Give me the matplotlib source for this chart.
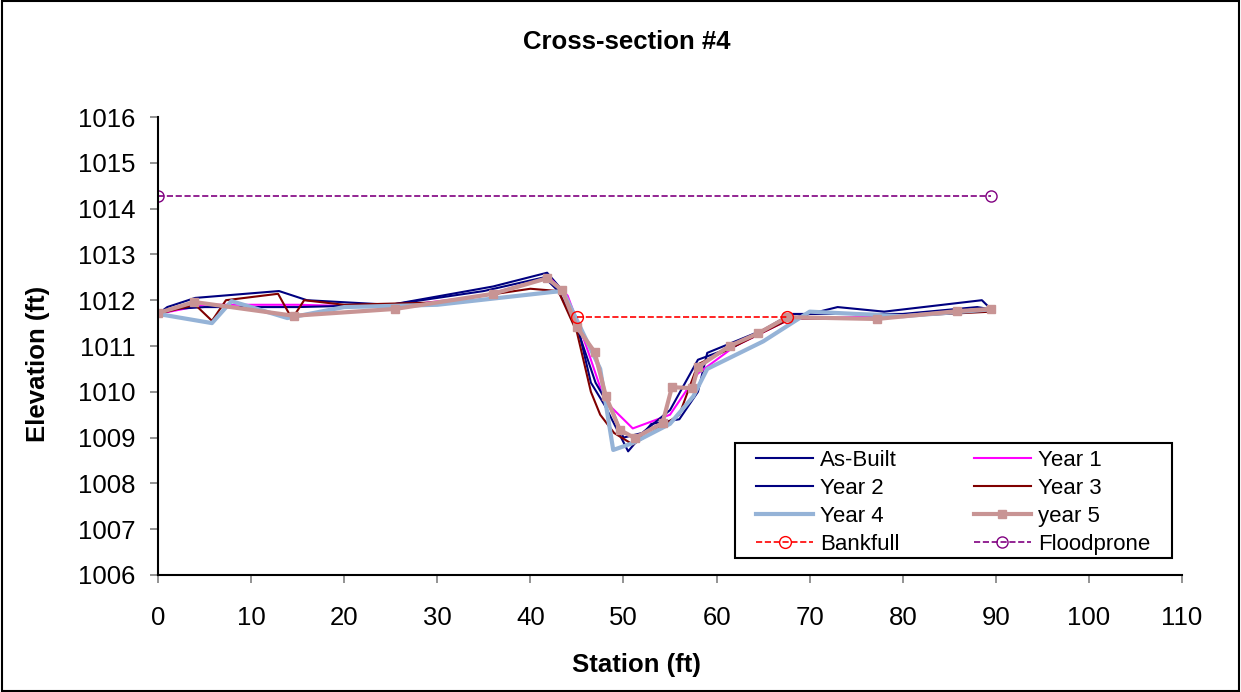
import matplotlib
matplotlib.use("Agg")
import matplotlib.pyplot as plt

plt.rcParams['font.family'] = ['Liberation Sans', 'DejaVu Sans']

# data
asbuilt_x = [0, 1, 4, 13, 16, 25, 36, 41.8, 43.5, 45, 46.5, 48, 50.5, 53, 56, 58, 59, 62, 68, 73, 78, 88.5, 89.5]
asbuilt_y = [1011.7, 1011.85, 1012.05, 1012.2, 1012.0, 1011.9, 1012.3, 1012.6, 1012.2, 1011.5, 1010.2, 1009.7, 1008.7, 1009.3, 1009.4, 1010.0, 1010.85, 1011.1, 1011.6, 1011.85, 1011.75, 1012.0, 1011.8]

year1_x = [0, 5, 15, 25, 35, 42, 44, 46, 48, 51, 55, 58, 62, 68, 80, 88, 89.5]
year1_y = [1011.7, 1011.9, 1011.9, 1011.85, 1012.1, 1012.5, 1012.1, 1011.0, 1009.8, 1009.2, 1009.5, 1010.4, 1011.0, 1011.6, 1011.65, 1011.8, 1011.8]

year2_x = [0, 1, 5, 15, 25, 35, 41.5, 43, 45, 47, 49, 50, 52, 55, 58, 62, 68, 80, 88, 89.5]
year2_y = [1011.7, 1011.8, 1011.85, 1011.85, 1011.9, 1012.2, 1012.5, 1012.2, 1011.4, 1010.2, 1009.5, 1009.0, 1009.1, 1009.6, 1010.7, 1011.0, 1011.7, 1011.7, 1011.85, 1011.8]

year3_x = [0, 4, 5.8, 7.3, 12.9, 14.4, 15.7, 20, 30, 40, 43, 45, 46.5, 47.5, 49, 51, 53, 56, 58, 62, 68, 75, 89.5]
year3_y = [1011.7, 1011.9, 1011.55, 1012.0, 1012.14, 1011.59, 1012.0, 1011.9, 1011.95, 1012.25, 1012.2, 1011.3, 1010.0, 1009.5, 1009.1, 1008.85, 1009.1, 1009.5, 1010.6, 1011.0, 1011.6, 1011.6, 1011.75]

year4_x = [0, 5.8, 7.9, 13.9, 20, 30, 42.4, 43.5, 47.5, 48.9, 51, 55, 57.5, 59, 65, 70, 80, 89.5]
year4_y = [1011.7, 1011.5, 1011.98, 1011.61, 1011.85, 1011.9, 1012.18, 1012.2, 1010.5, 1008.73, 1008.88, 1009.3, 1009.9, 1010.5, 1011.1, 1011.75, 1011.65, 1011.8]

year5_x = [0, 3.9, 14.6, 25.5, 36.0, 41.8, 43.4, 45.0, 46.9, 48.1, 49.6, 51.2, 54.2, 55.2, 57.4, 58.0, 61.4, 64.5, 67.6, 77.2, 85.8, 89.5]
year5_y = [1011.72, 1011.96, 1011.66, 1011.81, 1012.14, 1012.48, 1012.22, 1011.41, 1010.87, 1009.91, 1009.17, 1008.99, 1009.32, 1010.10, 1010.08, 1010.54, 1011.0, 1011.28, 1011.63, 1011.59, 1011.76, 1011.81]

bankfull_x = [45.0, 67.6]
bankfull_y = [1011.63, 1011.63]

floodprone_x = [0, 89.5]
floodprone_y = [1014.28, 1014.28]

fig = plt.figure(figsize=(12.41, 6.92), dpi=100)
ax = fig.add_axes([0.1273, 0.1691, 0.8252, 0.6618])

h_ab, = ax.plot(asbuilt_x, asbuilt_y, color="#000080", lw=1.5, label="As-Built")
h_y1, = ax.plot(year1_x, year1_y, color="#ff00ff", lw=1.5, label="Year 1")
h_y2, = ax.plot(year2_x, year2_y, color="#000080", lw=1.5, label="Year 2")
h_y3, = ax.plot(year3_x, year3_y, color="#800000", lw=1.5, label="Year 3")
h_y4, = ax.plot(year4_x, year4_y, color="#95b3d7", lw=3, label="Year 4")
h_y5, = ax.plot(year5_x, year5_y, color="#c89494", lw=3, marker="s", ms=6, label="year 5")
h_bf, = ax.plot(bankfull_x, bankfull_y, color="#ff0000", lw=1.2, ls="--", marker="o", ms=8.5,
                mfc="none", mec="#ff0000", label="Bankfull")
h_fp, = ax.plot(floodprone_x, floodprone_y, color="#800080", lw=1.2, ls="--", marker="o", ms=8,
                mfc="none", mec="#800080", label="Floodprone")

ax.set_xlim(0, 110)
ax.set_ylim(1006, 1016)
ax.set_xticks(range(0, 111, 10))
ax.set_yticks(range(1006, 1017))
ax.spines["top"].set_visible(False)
ax.spines["right"].set_visible(False)
ax.spines["left"].set_linewidth(1.5)
ax.spines["bottom"].set_linewidth(1.5)
ax.tick_params(labelsize=18.5, length=6, color="#808080", width=1.2)
ax.tick_params(axis="x", pad=16)
ax.tick_params(axis="y", pad=10)

fig.text(0.5125, 0.039, "Station (ft)", ha="center", va="center", fontsize=18.5, fontweight="bold")
fig.text(0.031, 0.474, "Elevation (ft)", ha="center", va="center", rotation=90,
         fontsize=18.5, fontweight="bold")
fig.text(0.505, 0.94, "Cross-section #4", ha="center", va="center", fontsize=18.5, fontweight="bold")

# legend box drawn separately (wide side padding like Excel)
ax.add_patch(plt.Rectangle((0.5635, 0.0371), 0.4268, 0.251, transform=ax.transAxes,
                           facecolor="white", edgecolor="black", lw=1.5, zorder=4.5, clip_on=False))

# column-major order so rows read As-Built | Year 1, Year 2 | Year 3 ...
handles = [h_ab, h_y2, h_y4, h_bf, h_y1, h_y3, h_y5, h_fp]
leg = ax.legend(handles=handles, labels=[h.get_label() for h in handles], ncol=2, fontsize=16,
                loc="upper left", bbox_to_anchor=(0.584, 0.274), frameon=False,
                borderaxespad=0, borderpad=0, handlelength=2.57, labelspacing=0.32,
                handletextpad=0.32, columnspacing=3.33)

# outer chart border
fig.patches.append(plt.Rectangle((0.002, 0.002), 0.996, 0.996, transform=fig.transFigure,
                                 fill=False, edgecolor="black", lw=1.5))

fig.savefig("out.png", dpi=100)
